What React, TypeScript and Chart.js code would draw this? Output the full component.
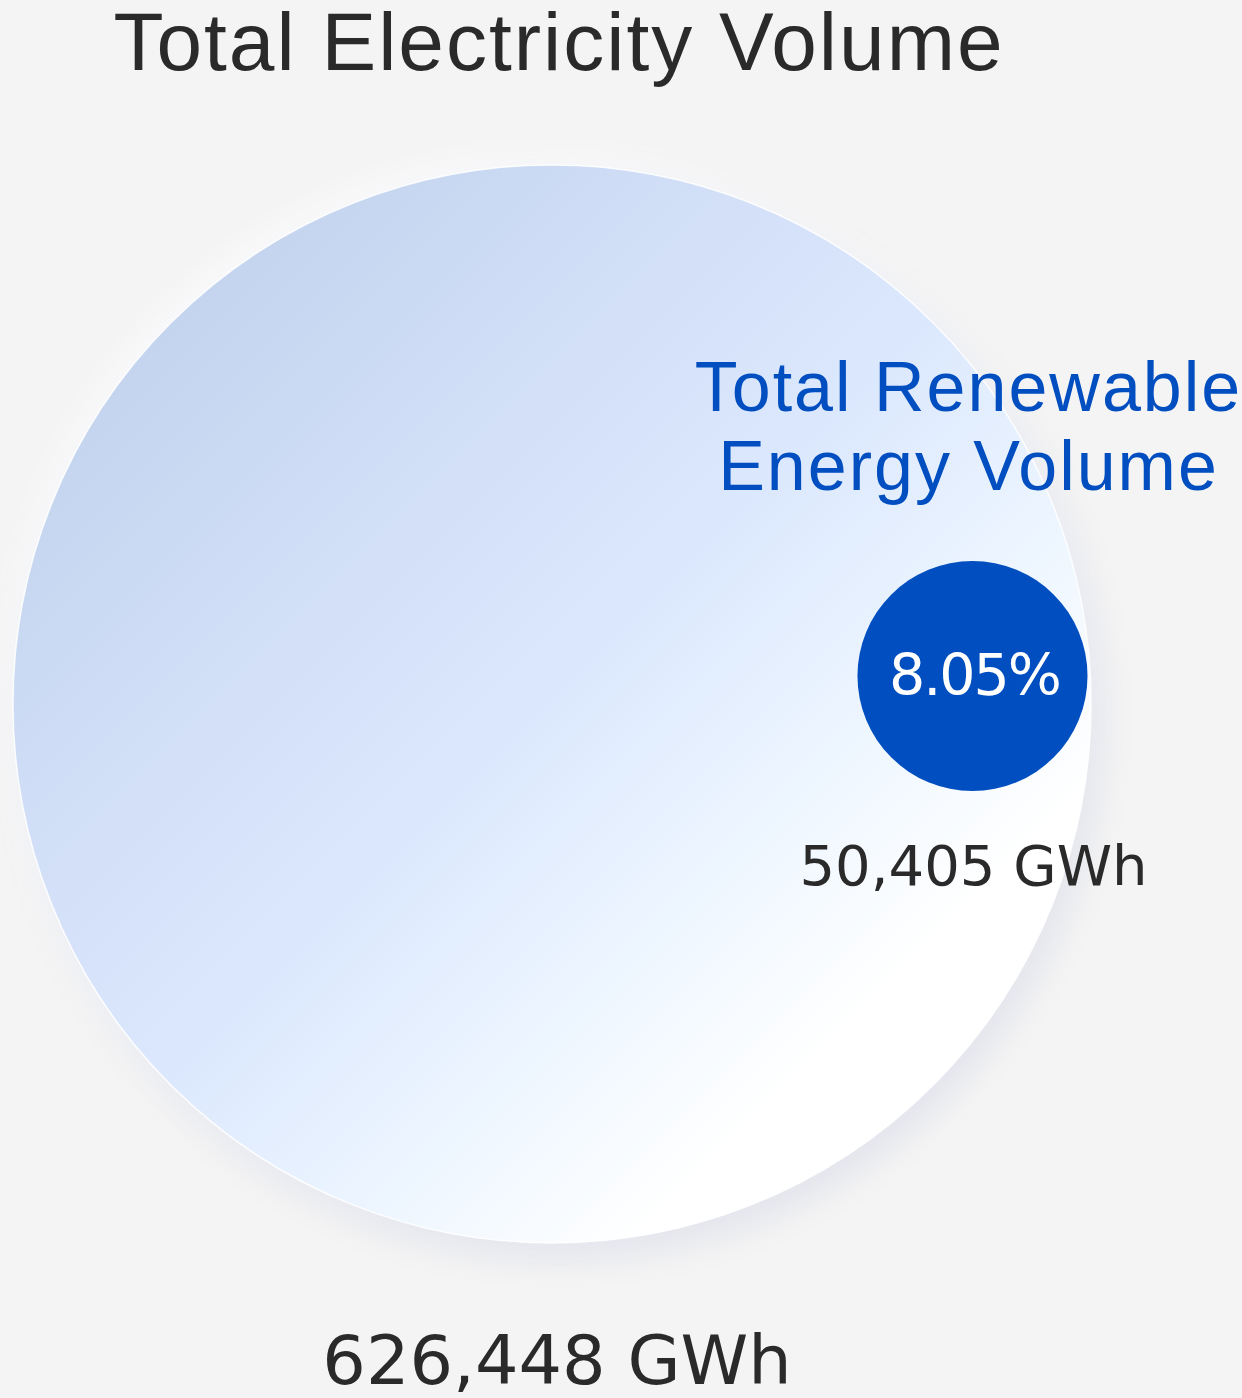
import { useEffect, useRef } from "react";
import { Chart, registerables } from "chart.js";

Chart.register(...registerables);

// ---- data ----
const categoryLines = [["Total Electricity Volume"], ["Total Renewable", "Energy Volume"]];
const volumesGWh = [626448, 50405];
const unitLabel = "GWh";

// ---- bubble placement, in axis units (1 unit = radius of the large bubble) ----
const bubbleX = [0, 0.7801];
const bubbleY = [0, 0.0519];
const bubbleRadius = [1, 0.2134];

const X_RANGE = [-1.0241, 1.2801];
const Y_RANGE = [-1.2876, 1.3061];

const WIDTH = 1242;
const HEIGHT = 1398;
const BG = "#f4f4f4";
const DARK = "#2a2a2a";
const BLUE = "#004ebf";

const fmt = (v: number) => v.toLocaleString("en-US");
const sharePct = ((volumesGWh[1] / volumesGWh[0]) * 100).toFixed(2) + "%";

// converts a radius given in x-axis units to pixels
function pixelRadius(chart: any, i: number) {
  const xs = chart.scales && chart.scales.x;
  if (!xs) return 0;
  const r = Math.abs(xs.getPixelForValue(bubbleRadius[i]) - xs.getPixelForValue(0));
  return Number.isFinite(r) ? r : 0;
}

// halo under the large bubble and its diagonal gradient fill
const haloPlugin = {
  id: "halo",
  beforeDatasetsDraw(chart: any) {
    const el = chart.getDatasetMeta(0).data[0];
    if (!el) return;
    const r = pixelRadius(chart, 0);
    const ctx = chart.ctx as CanvasRenderingContext2D;

    const d = r * 0.72;
    const g = ctx.createLinearGradient(el.x - d, el.y - d, el.x + d, el.y + d);
    g.addColorStop(0, "#c4d4ee");
    g.addColorStop(0.3, "#d3e0f8");
    g.addColorStop(0.5, "#dce8fd");
    g.addColorStop(0.7, "#ecf5ff");
    g.addColorStop(0.9, "#ffffff");
    el.options.backgroundColor = g;

    ctx.save();
    ctx.fillStyle = BG;
    ctx.shadowColor = "rgba(255,255,255,0.9)";
    ctx.shadowBlur = 30;
    ctx.shadowOffsetX = -6;
    ctx.shadowOffsetY = -8;
    ctx.beginPath();
    ctx.arc(el.x, el.y, r, 0, Math.PI * 2);
    ctx.fill();
    ctx.shadowColor = "rgba(110,125,180,0.16)";
    ctx.shadowBlur = 36;
    ctx.shadowOffsetX = 8;
    ctx.shadowOffsetY = 12;
    ctx.beginPath();
    ctx.arc(el.x, el.y, r, 0, Math.PI * 2);
    ctx.fill();
    ctx.restore();
  },
};

function drawText(ctx: CanvasRenderingContext2D, text: string, x: number, y: number, font: string, color: string, spacing: number) {
  ctx.font = font;
  ctx.fillStyle = color;
  (ctx as any).letterSpacing = spacing + "px";
  ctx.textAlign = "center";
  ctx.textBaseline = "alphabetic";
  ctx.fillText(text, x + spacing / 2, y);
}

const labelPlugin = {
  id: "bubbleLabels",
  afterDatasetsDraw(chart: any) {
    const meta = chart.getDatasetMeta(0);
    const big = meta.data[0];
    const small = meta.data[1];
    if (!big || !small) return;
    const ctx = chart.ctx as CanvasRenderingContext2D;
    ctx.save();
    const sans = "'Liberation Sans', Arial, sans-serif";
    const deja = "'DejaVu Sans', sans-serif";

    // title above the large bubble
    drawText(ctx, categoryLines[0][0], big.x + 6, 70, `82px ${sans}`, DARK, 2);
    // total volume below the large bubble
    drawText(ctx, `${fmt(volumesGWh[0])} ${unitLabel}`, big.x + 5, big.y + 680, `68.5px ${deja}`, DARK, 0);

    // renewable label above the small bubble
    const lines = categoryLines[1];
    lines.forEach((line, k) => {
      drawText(ctx, line, small.x - 5, small.y - 265 + k * 79, `70px ${sans}`, BLUE, 2);
    });
    // share inside the small bubble
    drawText(ctx, sharePct, small.x + 3, small.y + 19, `57px ${deja}`, "#ffffff", -2);
    // renewable volume below the small bubble
    drawText(ctx, `${fmt(volumesGWh[1])} ${unitLabel}`, small.x + 1, small.y + 209, `56px ${deja}`, DARK, 0);
    ctx.restore();
  },
};

export default function App() {
  const ref = useRef<HTMLCanvasElement | null>(null);

  useEffect(() => {
    document.body.style.margin = "0";
    document.body.style.background = BG;
    const canvas = ref.current;
    if (!canvas) return;
    const points: any[] = bubbleX.map((x, i) => ({ x, y: bubbleY[i] }));
    const chart = new Chart(canvas, {
      type: "bubble",
      data: {
        labels: categoryLines.map((l) => l.join(" ")),
        datasets: [
          {
            data: points,
            backgroundColor: (c: any) => (c.dataIndex === 0 ? "#dbe6fb" : BLUE),
            borderColor: (c: any) => (c.dataIndex === 0 ? "rgba(255,255,255,0.85)" : BLUE),
            borderWidth: (c: any) => (c.dataIndex === 0 ? 1.5 : 0),
            hoverRadius: 0,
            clip: false as any,
          },
        ],
      },
      options: {
        responsive: false,
        animation: false,
        devicePixelRatio: 1,
        events: [],
        layout: { padding: 0, autoPadding: false },
        scales: {
          x: { type: "linear", display: false, min: X_RANGE[0], max: X_RANGE[1] },
          y: { type: "linear", display: false, min: Y_RANGE[0], max: Y_RANGE[1] },
        },
        plugins: {
          legend: { display: false },
          tooltip: { enabled: false },
          title: { display: false },
        },
      },
      plugins: [haloPlugin, labelPlugin],
    });
    // once the axes are laid out, size each bubble from its radius in axis units
    points.forEach((p, i) => {
      p.r = pixelRadius(chart, i);
    });
    chart.update();
    return () => chart.destroy();
  }, []);

  return (
    <div style={{ width: WIDTH, height: HEIGHT, background: BG }}>
      <canvas ref={ref} width={WIDTH} height={HEIGHT} style={{ display: "block" }} />
    </div>
  );
}
